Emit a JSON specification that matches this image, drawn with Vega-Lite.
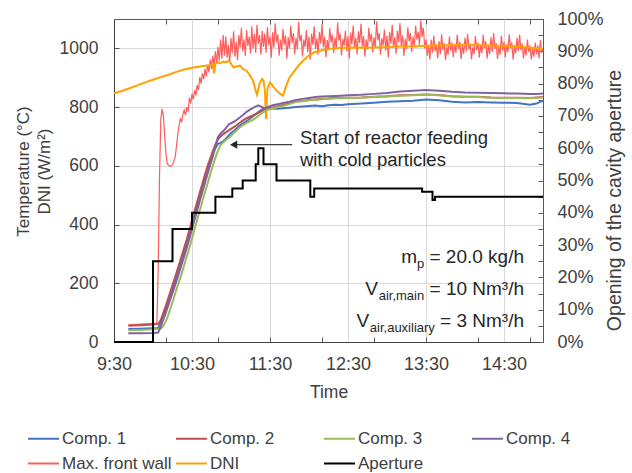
{
  "$schema": "https://vega.github.io/schema/vega-lite/v6.json",
  "width": 429,
  "height": 323,
  "autosize": {"type": "none"},
  "padding": {"left": 114, "top": 19, "right": 89, "bottom": 131},
  "background": "white",
  "config": {
    "font": "Liberation Sans",
    "view": {"stroke": "#595959", "strokeWidth": 1},
    "axis": {
      "labelFont": "Liberation Sans",
      "titleFont": "Liberation Sans",
      "labelColor": "#404040",
      "titleColor": "#404040",
      "titleFontWeight": "normal",
      "domainColor": "#595959",
      "tickColor": "#595959",
      "labelOverlap": false,
      "labelFlush": false
    },
    "legend": {
      "orient": "none",
      "direction": "horizontal",
      "legendX": -87,
      "legendY": 403,
      "columns": 4,
      "gridAlign": "all",
      "columnPadding": 0,
      "rowPadding": 0,
      "symbolType": "stroke",
      "symbolSize": 961,
      "symbolStrokeWidth": 2,
      "labelFont": "Liberation Sans",
      "labelFontSize": 17,
      "labelColor": "#404040",
      "labelOffset": 2,
      "labelLimit": 300
    }
  },
  "resolve": {"scale": {"y": "independent"}, "axis": {"x": "independent"}},
  "layer": [
    {
      "layer": [
        {
          "data": {
            "values": [
              {"t":581,"v":58},{"t":603,"v":64},{"t":604,"v":250},{"t":605,"v":560},{"t":606,"v":760},{"t":607,"v":794},{"t":608,"v":770},{"t":609,"v":700},{"t":610,"v":640},{"t":611,"v":606},{"t":613,"v":598},{"t":615,"v":603},{"t":617,"v":628},{"t":618,"v":665},{"t":619,"v":705},{"t":620,"v":735},{"t":621,"v":762},{"t":622,"v":748},{"t":623,"v":775},{"t":624,"v":790},{"t":625,"v":772},{"t":626,"v":800},{"t":627,"v":785},{"t":628,"v":832},{"t":629,"v":812},{"t":630,"v":845},{"t":631,"v":826},{"t":632,"v":858},{"t":633,"v":840},{"t":634,"v":875},{"t":635,"v":858},{"t":636,"v":902},{"t":637,"v":880},{"t":638,"v":915},{"t":639,"v":895},{"t":640,"v":930},{"t":641,"v":905},{"t":642,"v":945},{"t":643,"v":918},{"t":644,"v":962},{"t":645,"v":930},{"t":646,"v":975},{"t":647,"v":940},{"t":648,"v":990},{"t":649,"v":950},{"t":650,"v":1005},{"t":651,"v":958},{"t":652,"v":1030},{"t":653,"v":965},{"t":654,"v":1045},{"t":655,"v":975},
              {"t":656,"v":1040},{"t":657,"v":968},{"t":658,"v":1012},{"t":659,"v":950},{"t":660,"v":1035},{"t":661,"v":985},{"t":662,"v":1058},{"t":663,"v":972},{"t":664,"v":1022},{"t":665,"v":960},{"t":666,"v":1045},{"t":667,"v":1002},{"t":668,"v":1070},{"t":669,"v":990},{"t":670,"v":1030},{"t":671,"v":975},{"t":672,"v":1062},{"t":673,"v":1008},{"t":674,"v":1040},{"t":675,"v":982},{"t":676,"v":1075},{"t":677,"v":1000},{"t":678,"v":1050},{"t":679,"v":985},{"t":680,"v":1080},{"t":681,"v":1015},{"t":682,"v":1045},{"t":683,"v":978},{"t":684,"v":1060},{"t":685,"v":1005},
              {"t":686,"v":1050},{"t":687,"v":985},{"t":688,"v":1072},{"t":689,"v":1010},{"t":690,"v":1040},{"t":691,"v":968},{"t":692,"v":1055},{"t":693,"v":1002},{"t":694,"v":1085},{"t":695,"v":1020},{"t":696,"v":1048},{"t":697,"v":975},{"t":698,"v":1030},{"t":699,"v":992},{"t":700,"v":1066},{"t":701,"v":1012},{"t":702,"v":1044},{"t":703,"v":965},{"t":704,"v":1038},{"t":705,"v":1000},{"t":706,"v":1078},{"t":707,"v":1018},{"t":708,"v":1052},{"t":709,"v":980},{"t":710,"v":1036},{"t":711,"v":996},{"t":712,"v":1090},{"t":713,"v":1024},{"t":714,"v":1046},{"t":715,"v":972},{"t":716,"v":1030},{"t":717,"v":1005},{"t":718,"v":1062},{"t":719,"v":988},{"t":720,"v":1040},{"t":721,"v":962},{"t":722,"v":1050},{"t":723,"v":1012},{"t":724,"v":1075},{"t":725,"v":998},{"t":726,"v":1034},{"t":727,"v":978},{"t":728,"v":1056},{"t":729,"v":1016},{"t":730,"v":1082},{"t":731,"v":1004},{"t":732,"v":1040},{"t":733,"v":970},{"t":734,"v":1028},{"t":735,"v":995},{"t":736,"v":1068},{"t":737,"v":1020},{"t":738,"v":1048},{"t":739,"v":984},{"t":740,"v":1036},{"t":741,"v":1000},{"t":742,"v":1088},{"t":743,"v":1026},{"t":744,"v":1050},{"t":745,"v":976},{"t":746,"v":1032},{"t":747,"v":1008},{"t":748,"v":1060},{"t":749,"v":990},{"t":750,"v":1042},{"t":751,"v":966},{"t":752,"v":1054},{"t":753,"v":1014},{"t":754,"v":1078},{"t":755,"v":1002},{"t":756,"v":1036},{"t":757,"v":980},{"t":758,"v":1058},{"t":759,"v":1018},{"t":760,"v":1084},{"t":761,"v":1006},{"t":762,"v":1042},{"t":763,"v":972},{"t":764,"v":1030},{"t":765,"v":996},{"t":766,"v":1070},{"t":767,"v":1022},{"t":768,"v":1050},{"t":769,"v":986},{"t":770,"v":1038},{"t":771,"v":1002},{"t":772,"v":1092},{"t":773,"v":1028},{"t":774,"v":1052},{"t":775,"v":978},{"t":776,"v":1034},{"t":777,"v":1010},{"t":778,"v":1064},{"t":779,"v":992},{"t":780,"v":1044},{"t":781,"v":968},{"t":782,"v":1056},{"t":783,"v":1016},{"t":784,"v":1080},{"t":785,"v":1004},{"t":786,"v":1038},{"t":787,"v":982},{"t":788,"v":1060},{"t":789,"v":1020},{"t":790,"v":1086},{"t":791,"v":1008},{"t":792,"v":1044},{"t":793,"v":974},{"t":794,"v":1032},{"t":795,"v":998},{"t":796,"v":1072},{"t":797,"v":1024},{"t":798,"v":1052},{"t":799,"v":988},{"t":800,"v":1040},{"t":801,"v":1004},{"t":802,"v":1078},{"t":803,"v":1030},{"t":804,"v":1056},{"t":805,"v":1012},{"t":806,"v":1096},{"t":807,"v":1040},{"t":808,"v":1070},{"t":809,"v":1000},{"t":810,"v":1030},
              {"t":811,"v":975},{"t":812,"v":1010},{"t":813,"v":962},{"t":814,"v":1030},{"t":815,"v":985},{"t":816,"v":1044},{"t":817,"v":990},{"t":818,"v":1012},{"t":819,"v":966},{"t":820,"v":1025},{"t":821,"v":980},{"t":822,"v":1048},{"t":823,"v":995},{"t":824,"v":1018},{"t":825,"v":960},{"t":826,"v":1006},{"t":827,"v":978},{"t":828,"v":1040},{"t":829,"v":992},{"t":830,"v":1020},{"t":831,"v":970},{"t":832,"v":1015},{"t":833,"v":985},{"t":834,"v":1046},{"t":835,"v":998},{"t":836,"v":1022},{"t":837,"v":964},{"t":838,"v":1008},{"t":839,"v":982},{"t":840,"v":1036},{"t":841,"v":990},{"t":842,"v":1050},{"t":843,"v":996},{"t":844,"v":1016},{"t":845,"v":962},{"t":846,"v":1004},{"t":847,"v":980},{"t":848,"v":1042},{"t":849,"v":994},{"t":850,"v":1020},{"t":851,"v":968},{"t":852,"v":1012},{"t":853,"v":984},{"t":854,"v":1046},{"t":855,"v":1000},{"t":856,"v":1024},{"t":857,"v":966},{"t":858,"v":1010},{"t":859,"v":980},{"t":860,"v":1038},{"t":861,"v":988},{"t":862,"v":1052},{"t":863,"v":998},{"t":864,"v":1018},{"t":865,"v":964},{"t":866,"v":1006},{"t":867,"v":978},{"t":868,"v":1044},{"t":869,"v":992},{"t":870,"v":1022},{"t":871,"v":970},{"t":872,"v":1014},{"t":873,"v":986},{"t":874,"v":1048},{"t":875,"v":1000},{"t":876,"v":1020},{"t":877,"v":962},{"t":878,"v":1008},{"t":879,"v":982},{"t":880,"v":1036},{"t":881,"v":990},{"t":882,"v":1046},{"t":883,"v":994},{"t":884,"v":1016},{"t":885,"v":966},{"t":886,"v":1004},{"t":887,"v":976},{"t":888,"v":1030},{"t":889,"v":988},{"t":890,"v":1010},{"t":891,"v":962},{"t":892,"v":1000},{"t":893,"v":972},{"t":894,"v":1020},{"t":895,"v":980},{"t":896,"v":1010},{"t":897,"v":966},{"t":898,"v":1028},{"t":899,"v":984},{"t":900,"v":1000}
            ]
          },
          "mark": {"type": "line", "strokeWidth": 1.2, "clip": true},
          "encoding": {
            "x": {
              "field": "t", "type": "quantitative",
              "scale": {"domain": [570, 900], "nice": false, "zero": false},
              "axis": {
                "orient": "bottom", "title": null, "labels": false, "grid": false,
                "values": [570,580,590,600,610,620,630,640,650,660,670,680,690,700,710,720,730,740,750,760,770,780,790,800,810,820,830,840,850,860,870,880,890,900],
                "tickSize": -5, "domainColor": "#404040"
              }
            },
            "y": {
              "field": "v", "type": "quantitative",
              "scale": {"domain": [0, 1100], "nice": false},
              "axis": {
                "title": ["Temperature (°C)", "DNI (W/m²)"], "titleFontSize": 17, "titleLineHeight": 21, "titlePadding": 6, "titleY": 152,
                "values": [0,50,100,150,200,250,300,350,400,450,500,550,600,650,700,750,800,850,900,950,1000,1050,1100],
                "labelExpr": "datum.value % 200 == 0 ? '' + datum.value : ''",
                "labelOverlap": false,
                "labelFontSize": 17.5, "labelPadding": 21,
                "tickSize": -5, "domainColor": "#404040",
                "grid": false
              }
            },
            "color": {
              "datum": "Max. front wall",
              "scale": {
                "domain": ["Comp. 1", "Comp. 2", "Comp. 3", "Comp. 4", "Max. front wall", "DNI", "Aperture"],
                "range": ["#4472C4", "#C0504D", "#9BBB59", "#8064A2", "#FF5C5C", "#FFA200", "#000000"]
              },
              "legend": {"title": null}
            }
          }
        },
        {
          "data": {
            "values": [
              {"t":570,"v":847},{"t":576,"v":855},{"t":582,"v":864},{"t":588,"v":874},{"t":594,"v":884},{"t":600,"v":893},{"t":606,"v":902},{"t":612,"v":910},{"t":618,"v":920},{"t":624,"v":928},{"t":630,"v":934},{"t":636,"v":938},{"t":642,"v":942},{"t":646,"v":944},{"t":647,"v":915},{"t":648,"v":948},{"t":650,"v":952},{"t":652,"v":950},{"t":654,"v":955},{"t":656,"v":952},{"t":658,"v":958},{"t":660,"v":948},{"t":662,"v":935},{"t":664,"v":938},{"t":667,"v":941},{"t":669,"v":930},{"t":672,"v":924},{"t":675,"v":905},{"t":677,"v":890},{"t":679,"v":856},{"t":680,"v":842},{"t":682,"v":880},{"t":684,"v":896},{"t":685,"v":890},{"t":686,"v":860},{"t":687,"v":760},{"t":688,"v":862},{"t":690,"v":884},{"t":692,"v":873},{"t":695,"v":856},{"t":698,"v":845},{"t":700,"v":839},{"t":703,"v":879},{"t":705,"v":900},{"t":708,"v":918},{"t":710,"v":930},{"t":713,"v":947},{"t":716,"v":960},{"t":718,"v":969},{"t":721,"v":979},{"t":724,"v":986},{"t":728,"v":992},{"t":734,"v":997},{"t":740,"v":1000},{"t":752,"v":1003},{"t":765,"v":1002},{"t":778,"v":1004},{"t":790,"v":1006},{"t":803,"v":1007},{"t":816,"v":1010},{"t":829,"v":1011},{"t":842,"v":1012},{"t":855,"v":1011},{"t":868,"v":1009},{"t":881,"v":1006},{"t":890,"v":1002},{"t":900,"v":998}
            ]
          },
          "mark": {"type": "line", "strokeWidth": 2, "clip": true},
          "encoding": {
            "x": {"field": "t", "type": "quantitative"},
            "y": {"field": "v", "type": "quantitative"},
            "color": {"datum": "DNI"}
          }
        },
        {
          "data": {
            "values": [
              {"t":581,"c1":44,"c2":55,"c3":40,"c4":30},
              {"t":590,"c1":45,"c2":57,"c3":41,"c4":30},
              {"t":600,"c1":47,"c2":60,"c3":43,"c4":31},
              {"t":604,"c1":48,"c2":62,"c3":44,"c4":32},
              {"t":606,"c1":68,"c2":75,"c3":46,"c4":52},
              {"t":608,"c1":92,"c2":100,"c3":55,"c4":78},
              {"t":610,"c1":115,"c2":125,"c3":72,"c4":102},
              {"t":612,"c1":140,"c2":152,"c3":95,"c4":128},
              {"t":614,"c1":166,"c2":180,"c3":122,"c4":154},
              {"t":616,"c1":193,"c2":207,"c3":150,"c4":180},
              {"t":618,"c1":220,"c2":235,"c3":178,"c4":207},
              {"t":620,"c1":248,"c2":263,"c3":205,"c4":235},
              {"t":622,"c1":276,"c2":292,"c3":233,"c4":263},
              {"t":624,"c1":305,"c2":321,"c3":262,"c4":292},
              {"t":626,"c1":334,"c2":350,"c3":292,"c4":321},
              {"t":628,"c1":366,"c2":382,"c3":321,"c4":352},
              {"t":630,"c1":398,"c2":415,"c3":352,"c4":384},
              {"t":632,"c1":430,"c2":446,"c3":384,"c4":416},
              {"t":634,"c1":462,"c2":478,"c3":416,"c4":448},
              {"t":636,"c1":493,"c2":509,"c3":448,"c4":480},
              {"t":638,"c1":524,"c2":540,"c3":479,"c4":511},
              {"t":640,"c1":554,"c2":570,"c3":510,"c4":542},
              {"t":642,"c1":584,"c2":600,"c3":540,"c4":573},
              {"t":644,"c1":612,"c2":625,"c3":570,"c4":603},
              {"t":646,"c1":638,"c2":650,"c3":600,"c4":632},
              {"t":648,"c1":660,"c2":672,"c3":628,"c4":668},
              {"t":650,"c1":675,"c2":690,"c3":652,"c4":698},
              {"t":652,"c1":678,"c2":700,"c3":670,"c4":710},
              {"t":654,"c1":684,"c2":708,"c3":680,"c4":718},
              {"t":656,"c1":692,"c2":714,"c3":688,"c4":728},
              {"t":658,"c1":702,"c2":720,"c3":695,"c4":740},
              {"t":660,"c1":712,"c2":726,"c3":702,"c4":745},
              {"t":663,"c1":722,"c2":734,"c3":715,"c4":752},
              {"t":666,"c1":735,"c2":744,"c3":728,"c4":762},
              {"t":669,"c1":744,"c2":754,"c3":738,"c4":772},
              {"t":672,"c1":752,"c2":762,"c3":746,"c4":784},
              {"t":675,"c1":762,"c2":768,"c3":752,"c4":792},
              {"t":678,"c1":772,"c2":774,"c3":760,"c4":800},
              {"t":681,"c1":783,"c2":780,"c3":770,"c4":806},
              {"t":684,"c1":792,"c2":788,"c3":780,"c4":800},
              {"t":686,"c1":797,"c2":792,"c3":786,"c4":796},
              {"t":688,"c1":796,"c2":795,"c3":790,"c4":800},
              {"t":692,"c1":795,"c2":799,"c3":795,"c4":806},
              {"t":696,"c1":794,"c2":803,"c3":800,"c4":810},
              {"t":700,"c1":796,"c2":807,"c3":804,"c4":814},
              {"t":705,"c1":798,"c2":812,"c3":810,"c4":818},
              {"t":710,"c1":800,"c2":819,"c3":818,"c4":824},
              {"t":715,"c1":802,"c2":821,"c3":820,"c4":828},
              {"t":720,"c1":804,"c2":824,"c3":823,"c4":831},
              {"t":725,"c1":805,"c2":826,"c3":825,"c4":834},
              {"t":730,"c1":803,"c2":828,"c3":827,"c4":836},
              {"t":735,"c1":806,"c2":829,"c3":828,"c4":837},
              {"t":740,"c1":808,"c2":831,"c3":830,"c4":838},
              {"t":745,"c1":807,"c2":831,"c3":830,"c4":839},
              {"t":750,"c1":810,"c2":832,"c3":831,"c4":840},
              {"t":760,"c1":812,"c2":833,"c3":832,"c4":842},
              {"t":770,"c1":815,"c2":835,"c3":834,"c4":845},
              {"t":780,"c1":818,"c2":837,"c3":836,"c4":848},
              {"t":790,"c1":820,"c2":840,"c3":839,"c4":853},
              {"t":800,"c1":822,"c2":841,"c3":840,"c4":856},
              {"t":810,"c1":826,"c2":843,"c3":842,"c4":858},
              {"t":820,"c1":823,"c2":841,"c3":840,"c4":856},
              {"t":830,"c1":818,"c2":837,"c3":836,"c4":852},
              {"t":840,"c1":816,"c2":835,"c3":834,"c4":850},
              {"t":850,"c1":817,"c2":835,"c3":834,"c4":849},
              {"t":860,"c1":816,"c2":833,"c3":832,"c4":848},
              {"t":870,"c1":815,"c2":832,"c3":831,"c4":847},
              {"t":880,"c1":814,"c2":832,"c3":831,"c4":846},
              {"t":890,"c1":808,"c2":831,"c3":830,"c4":845},
              {"t":895,"c1":812,"c2":833,"c3":832,"c4":845},
              {"t":900,"c1":822,"c2":834,"c3":833,"c4":846}
            ]
          },
          "layer": [
            {"mark": {"type": "line", "strokeWidth": 2, "clip": true}, "encoding": {"x": {"field": "t", "type": "quantitative"}, "y": {"field": "c1", "type": "quantitative"}, "color": {"datum": "Comp. 1"}}},
            {"mark": {"type": "line", "strokeWidth": 2, "clip": true}, "encoding": {"x": {"field": "t", "type": "quantitative"}, "y": {"field": "c2", "type": "quantitative"}, "color": {"datum": "Comp. 2"}}},
            {"mark": {"type": "line", "strokeWidth": 2, "clip": true}, "encoding": {"x": {"field": "t", "type": "quantitative"}, "y": {"field": "c3", "type": "quantitative"}, "color": {"datum": "Comp. 3"}}},
            {"mark": {"type": "line", "strokeWidth": 2, "clip": true}, "encoding": {"x": {"field": "t", "type": "quantitative"}, "y": {"field": "c4", "type": "quantitative"}, "color": {"datum": "Comp. 4"}}}
          ]
        }
      ]
    },
    {
      "layer": [
        {
          "data": {"values": [{"t1": 662, "t2": 707, "v": 672}]},
          "mark": {"type": "rule", "color": "#404040", "strokeWidth": 1.2},
          "encoding": {
            "x": {
              "field": "t1", "type": "quantitative",
              "axis": {
                "orient": "top", "labels": false, "domain": false, "grid": false, "title": null,
                "values": [570,580,590,600,610,620,630,640,650,660,670,680,690,700,710,720,730,740,750,760,770,780,790,800,810,820,830,840,850,860,870,880,890,900],
                "tickSize": -5
              }
            },
            "x2": {"field": "t2"},
            "y": {
              "field": "v", "type": "quantitative",
              "scale": {"domain": [0, 1100], "nice": false},
              "axis": {
                "orient": "left", "labels": false, "ticks": false, "domain": false, "title": null,
                "values": [200, 400, 600, 800, 1000],
                "grid": true, "gridColor": "#d9d9d9", "gridWidth": 1
              }
            }
          }
        },
        {
          "data": {"values": [{"t": 662, "v": 672}]},
          "mark": {"type": "point", "shape": "triangle-left", "filled": true, "size": 70, "color": "#262626", "opacity": 1},
          "encoding": {"x": {"field": "t", "type": "quantitative"}, "y": {"field": "v", "type": "quantitative"}}
        },
        {
          "data": {"values": [{"t": 713, "v": 675, "txt": "Start of reactor feeding"}, {"t": 713, "v": 601, "txt": "with cold particles"}]},
          "mark": {"type": "text", "align": "left", "baseline": "alphabetic", "fontSize": 18.5, "color": "#262626", "font": "Liberation Sans"},
          "encoding": {"x": {"field": "t", "type": "quantitative"}, "y": {"field": "v", "type": "quantitative"}, "text": {"field": "txt"}}
        },
        {
          "data": {"values": [{"t": 885.4, "v": 268.7, "txt": " = 20.0 kg/h"}, {"t": 885.4, "v": 158.8, "txt": " = 10 Nm³/h"}, {"t": 885.4, "v": 51, "txt": " = 3 Nm³/h"}, {"t": 803.1, "v": 268.7, "txt": "m"}, {"t": 773.1, "v": 158.8, "txt": "V"}, {"t": 766.3, "v": 51, "txt": "V"}]},
          "mark": {"type": "text", "align": "right", "baseline": "alphabetic", "fontSize": 19, "color": "#262626", "font": "Liberation Sans"},
          "encoding": {"x": {"field": "t", "type": "quantitative"}, "y": {"field": "v", "type": "quantitative"}, "text": {"field": "txt"}}
        },
        {
          "data": {"values": [{"t": 808.6, "v": 268.7, "txt": "p"}, {"t": 808.6, "v": 158.8, "txt": "air,main"}, {"t": 816.8, "v": 51, "txt": "air,auxiliary"}]},
          "mark": {"type": "text", "align": "right", "baseline": "alphabetic", "fontSize": 13, "dy": 5, "color": "#262626", "font": "Liberation Sans"},
          "encoding": {"x": {"field": "t", "type": "quantitative"}, "y": {"field": "v", "type": "quantitative"}, "text": {"field": "txt"}}
        }
      ]
    },
    {
      "data": {
        "values": [
          {"t":570,"v":0},{"t":600,"v":25},{"t":615,"v":35},{"t":630,"v":40},{"t":648,"v":45},{"t":661,"v":47.5},{"t":669,"v":50},{"t":679,"v":55},{"t":681,"v":60},{"t":685,"v":55},{"t":695,"v":50},{"t":721,"v":45},{"t":724,"v":47.5},{"t":807,"v":46.5},{"t":815,"v":44},{"t":817,"v":45},{"t":900,"v":45}
        ]
      },
      "mark": {"type": "line", "interpolate": "step-after", "strokeWidth": 2},
      "encoding": {
        "x": {
          "field": "t", "type": "quantitative",
          "axis": {
            "orient": "bottom", "title": "Time", "titleFontSize": 17.5, "titlePadding": 10,
            "values": [570, 630, 690, 750, 810, 870],
            "labelExpr": "floor(datum.value / 60) + ':30'",
            "labelOverlap": false,
            "labelFontSize": 18, "labelPadding": 13,
            "ticks": false, "domain": false,
            "grid": true, "gridColor": "#d9d9d9", "gridWidth": 1
          }
        },
        "y": {
          "field": "v", "type": "quantitative",
          "scale": {"domain": [0, 100], "nice": false},
          "axis": {
            "orient": "right",
            "title": "Opening of the cavity aperture", "titleFontSize": 19.5, "titleAngle": 270, "titleBaseline": "top", "titlePadding": 2, "titleY": 181,
            "values": [0,5,10,15,20,25,30,35,40,45,50,55,60,65,70,75,80,85,90,95,100],
            "labelExpr": "datum.value % 10 == 0 ? datum.value + '%' : ''",
            "labelOverlap": false,
            "labelFontSize": 18, "labelPadding": 19,
            "tickSize": -5, "grid": false, "domainColor": "#595959"
          }
        },
        "color": {"datum": "Aperture"}
      }
    }
  ]
}
